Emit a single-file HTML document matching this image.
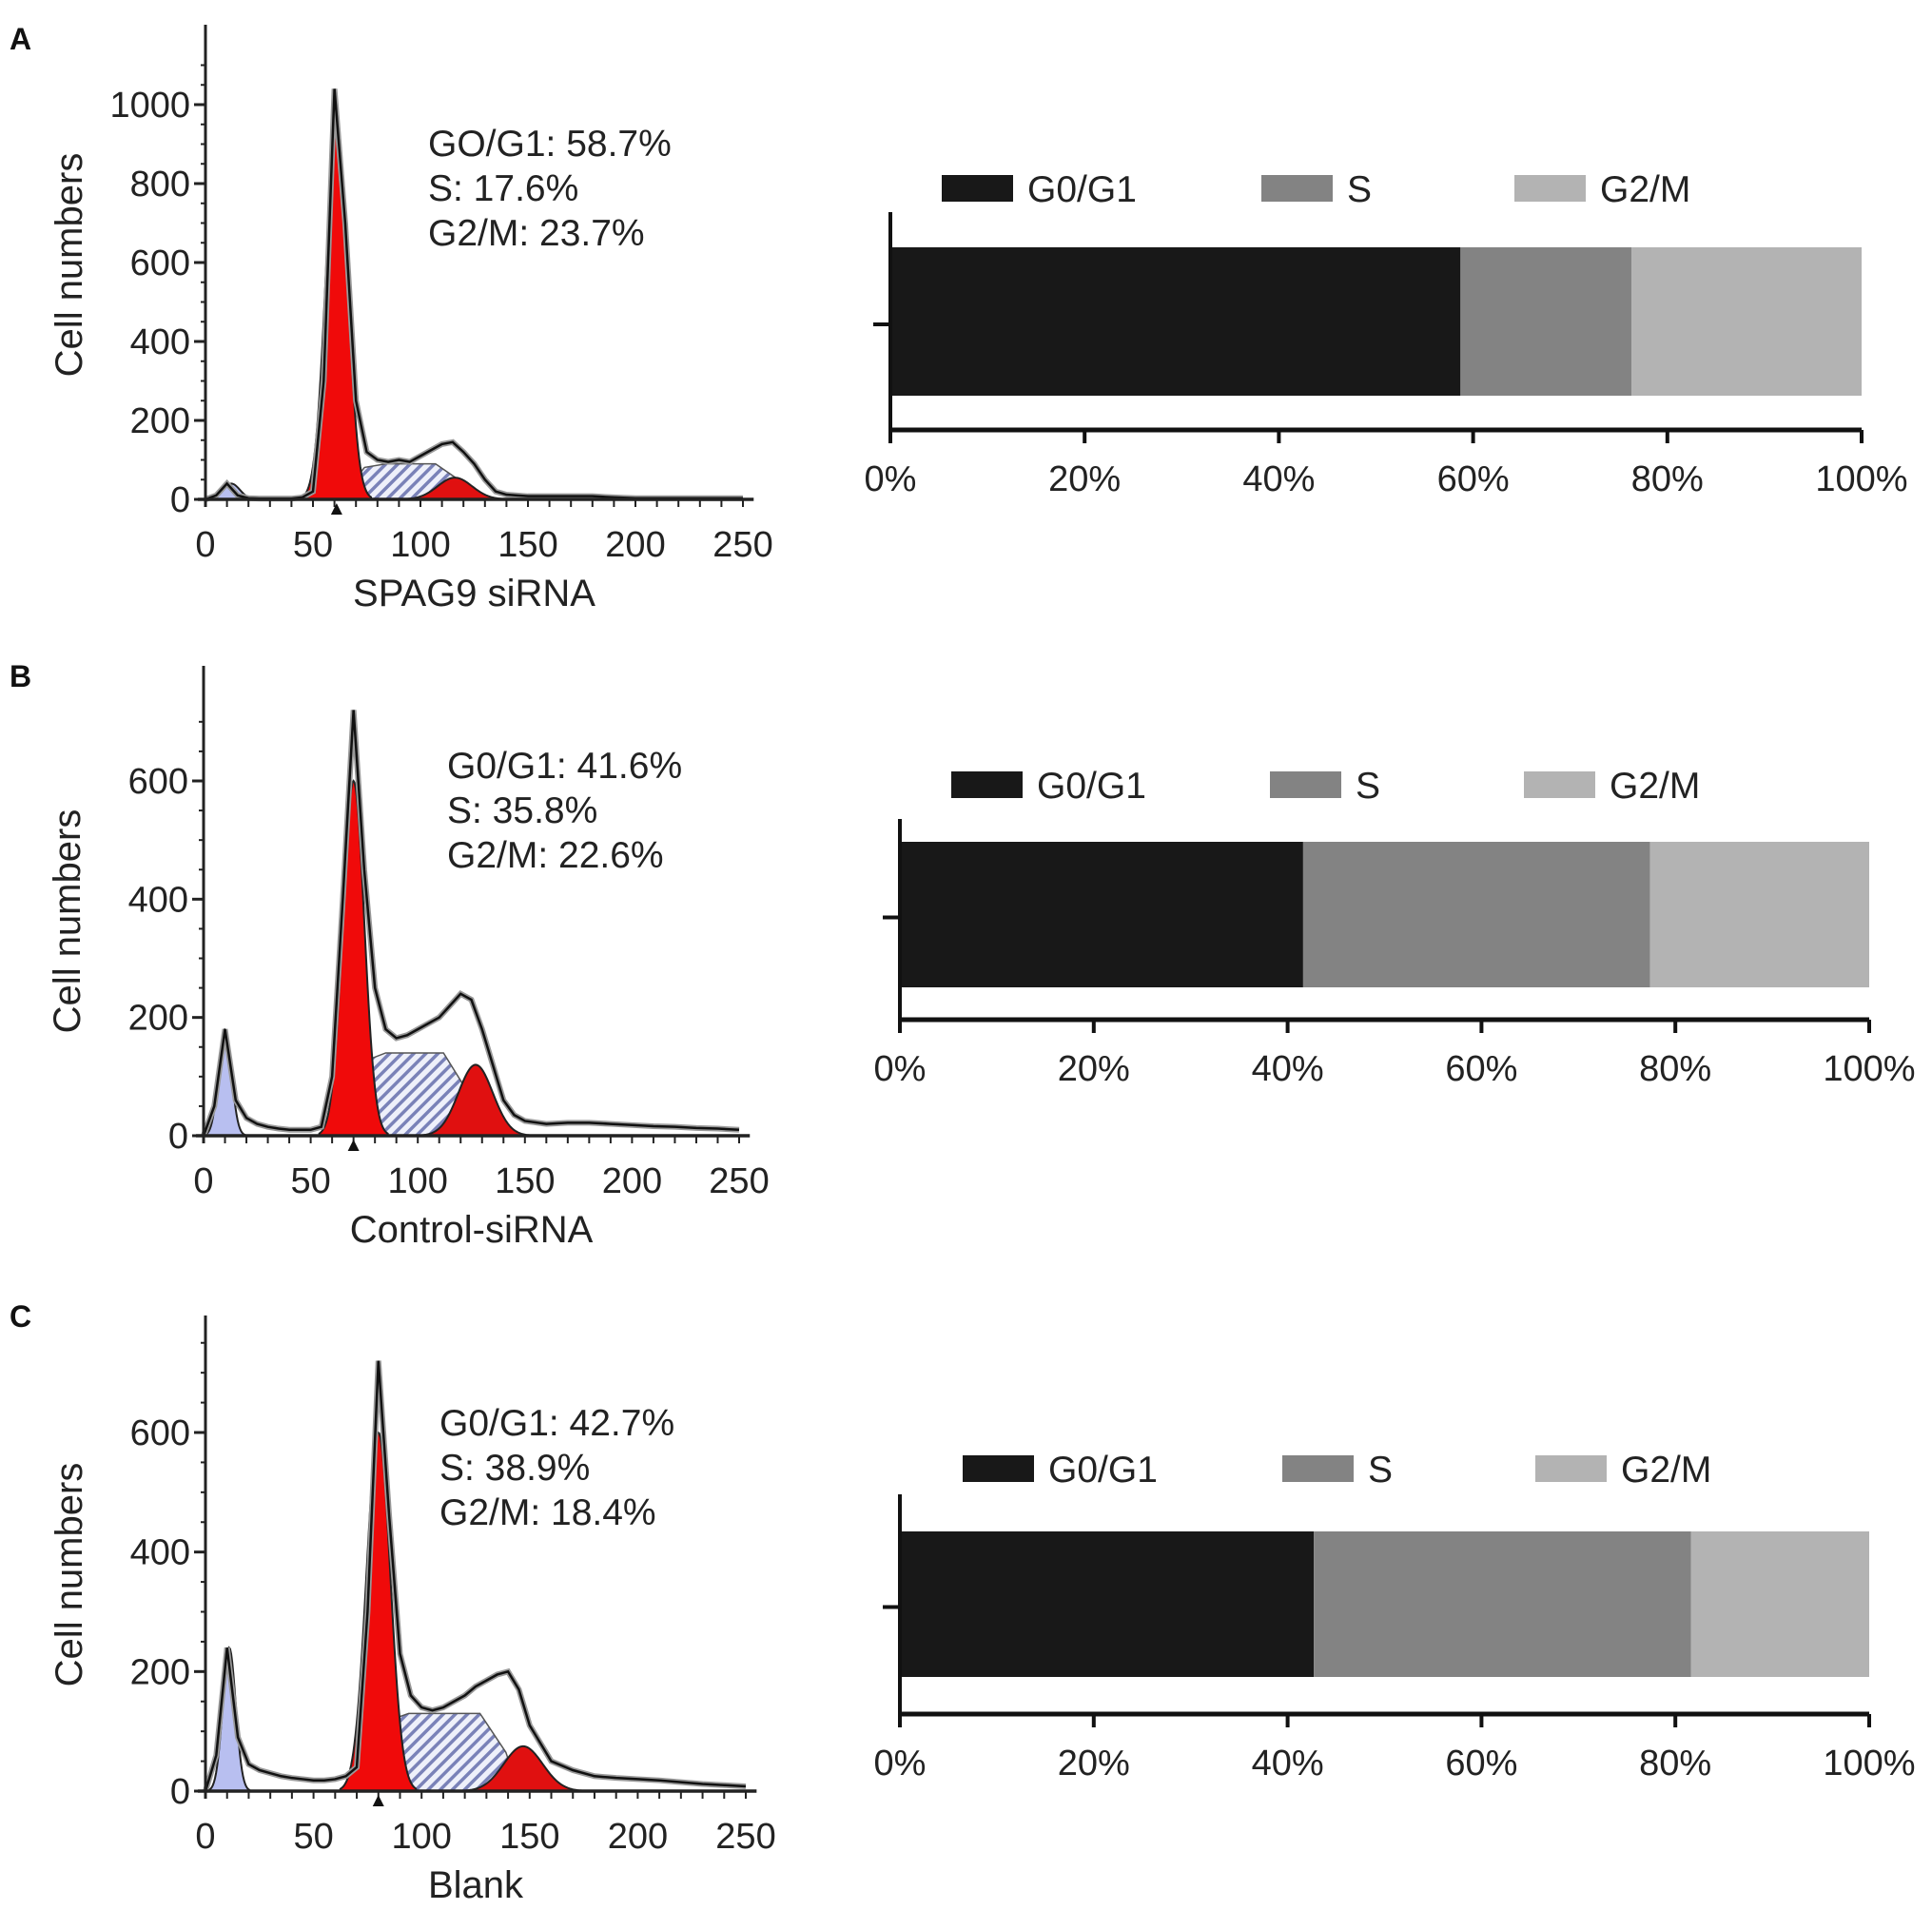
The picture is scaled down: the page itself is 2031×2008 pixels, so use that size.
<!DOCTYPE html>
<html><head><meta charset="utf-8"><style>
html,body{margin:0;padding:0;background:#fff;}
svg{display:block;font-family:"Liberation Sans",Arial,sans-serif;}
</style></head><body>
<svg id="fig" width="2031" height="2008" viewBox="0 0 2031 2008">
<defs>
<pattern id="hatch" patternUnits="userSpaceOnUse" width="9" height="9" patternTransform="rotate(45)">
<rect width="9" height="9" fill="#eef0fa"/><rect width="3.5" height="9" fill="#7a82b8"/></pattern>
</defs>
</svg>
<script>
// ---- data ----
const channels = [0,5,10,15,20,25,30,35,40,45,50,55,60,65,70,75,80,85,90,95,100,105,110,115,120,125,130,135,140,145,150,160,170,180,190,200,210,220,230,240,250];
const envA = [0,10,40,10,3,2,2,2,2,5,20,300,1040,700,250,120,100,95,100,95,110,125,140,145,120,90,50,20,12,10,8,8,8,8,5,3,3,3,3,3,3];
const envB = [0,50,180,60,30,20,15,12,10,10,10,15,100,400,720,450,250,180,165,170,180,190,200,220,240,230,180,120,60,35,25,20,22,22,20,18,16,15,13,12,10];
const envC = [0,60,240,90,45,35,30,25,22,20,18,18,20,25,40,300,720,460,230,160,140,135,140,150,160,175,185,195,200,170,110,50,35,25,22,20,18,15,12,10,8];
const debrisA = [12,40,4];   // mean, peak, sd
const debrisB = [10,180,3];
const debrisC = [11,240,3];
const g1A = [61,940,5], g1B = [70,600,5], g1C = [80,600,5.5];
const sA = [62,125,90], sB = [63,130,140], sC = [72,145,130];   // start, end, height
const g2A = [116,55,8], g2B = [127,120,8], g2C = [147,75,9];
const statsA = ["GO/G1: 58.7%","S: 17.6%","G2/M: 23.7%"];
const statsB = ["G0/G1: 41.6%","S: 35.8%","G2/M: 22.6%"];
const statsC = ["G0/G1: 42.7%","S: 38.9%","G2/M: 18.4%"];
const barA = [58.7,17.6,23.7], barB = [41.6,35.8,22.6], barC = [42.7,38.9,18.4];
const phaseNames = ["G0/G1","S","G2/M"];
const xTicks = [0,50,100,150,200,250];
const yTicksA = [0,200,400,600,800,1000], yTicksB = [0,200,400,600], yTicksC = [0,200,400,600];
const pctTicks = [0,20,40,60,80,100];

const NS="http://www.w3.org/2000/svg";
const svg=document.getElementById('fig');
function el(tag,attrs,parent){const e=document.createElementNS(NS,tag);for(const k in attrs)e.setAttribute(k,attrs[k]);(parent||svg).appendChild(e);return e;}
function txt(s,attrs,parent){const t=el('text',attrs,parent);t.textContent=s;return t;}

function hist(cfg){
  const g=el('g',{});
  
  
  const X=v=>cfg.x0+(cfg.x1-cfg.x0)*v/250;
  const Y=v=>cfg.y0-(cfg.y0-cfg.yRef)*v/cfg.yRefVal;
  const gauss=(p,c)=>p[1]*Math.exp(-0.5*Math.pow((c-p[0])/p[2],2));
  const gpoly=(p,fill,nm)=>{let pts=[];for(let c=p[0]-3.2*p[2];c<=p[0]+3.2*p[2];c+=0.5)pts.push(X(c)+','+Y(gauss(p,c)));
    pts.unshift(X(p[0]-3.2*p[2])+','+Y(0));pts.push(X(p[0]+3.2*p[2])+','+Y(0));
    const e=el('polygon',{points:pts.join(' '),fill:fill,stroke:'#222','stroke-width':2},g);
    };
  gpoly(cfg.debris,'#b8bff0','debris-peak');
  const s=cfg.s;const sp=[X(s[0])+','+Y(0),X(s[0]+12)+','+Y(s[2]*0.9),X(s[0]+22)+','+Y(s[2]),X(s[1]-18)+','+Y(s[2]),X(s[1]-6)+','+Y(s[2]*0.5),X(s[1])+','+Y(0)];
  const sPoly=el('polygon',{points:sp.join(' '),fill:'url(#hatch)',stroke:'#555','stroke-width':1.5},g);
  
  gpoly(cfg.g1,'#f00a0a','g1-peak');
  gpoly(cfg.g2,'#e01010','g2m-peak');
  const ep=channels.map((c,i)=>X(c)+','+Y(cfg.env[i])).join(' ');
  el('polyline',{points:ep,fill:'none',stroke:'#999','stroke-width':6},g);
  const env=el('polyline',{points:ep,fill:'none',stroke:'#111','stroke-width':2.5},g);
  
  const ya=el('line',{x1:cfg.x0,y1:cfg.yTop,x2:cfg.x0,y2:cfg.y0+8,stroke:'#222','stroke-width':3},g);
  
  const xa=el('line',{x1:cfg.x0-8,y1:cfg.y0,x2:X(255),y2:cfg.y0,stroke:'#222','stroke-width':3.5},g);
  
  for(let v=0;v<=cfg.yMax;v+=cfg.yMinor){el('line',{x1:cfg.x0-5,y1:Y(v),x2:cfg.x0+1,y2:Y(v),stroke:'#222','stroke-width':2},g);}
  for(let c=0;c<=250;c+=10){el('line',{x1:X(c),y1:cfg.y0,x2:X(c),y2:cfg.y0+8,stroke:'#222','stroke-width':2},g);}
  cfg.yTicks.forEach(v=>{el('line',{x1:cfg.x0-12,y1:Y(v),x2:cfg.x0,y2:Y(v),stroke:'#222','stroke-width':3},g);
    const t=txt(String(v),{x:cfg.x0-16,y:Y(v)+13,'text-anchor':'end','font-size':38,fill:'#222'},g);
    });
  xTicks.forEach(v=>{const t=txt(String(v),{x:X(v),y:cfg.y0+60,'text-anchor':'middle','font-size':38,fill:'#222'},g);
    });
  el('polygon',{points:`${X(cfg.g1[0])-6},${cfg.y0+16} ${X(cfg.g1[0])+6},${cfg.y0+16} ${X(cfg.g1[0])},${cfg.y0+4}`,fill:'#111'},g);
  const yt=txt('Cell numbers',{x:0,y:0,transform:`translate(${cfg.x0-130},${(cfg.y0+cfg.yRef)/2-39}) rotate(-90)`,'text-anchor':'middle','font-size':40,fill:'#222'},g);
  
  const xt=txt(cfg.xlabel,{x:X(125),y:cfg.y0+112,'text-anchor':'middle','font-size':40,fill:'#222'},g);
  
  cfg.stats.forEach((s,i)=>{const t=txt(s,{x:cfg.sx,y:cfg.sy+i*47,'font-size':39,fill:'#222'},g);
    });
  const pl=txt(cfg.letter,{x:10,y:cfg.ly,'font-size':32,'font-weight':'bold',fill:'#111'},g);
  
}

function bar(cfg){
  const g=el('g',{});
  
  
  const X=p=>cfg.x0+(cfg.x1-cfg.x0)*p/100;
  const fills=['#181818','#838383','#b3b3b3'];
  let acc=0;
  cfg.vals.forEach((v,i)=>{const r=el('rect',{x:X(acc),y:cfg.bt,width:X(acc+v)-X(acc),height:cfg.bb-cfg.bt,fill:fills[i]},g);
    acc+=v;});
  const va=el('line',{x1:cfg.x0,y1:cfg.vt,x2:cfg.x0,y2:cfg.ay+12,stroke:'#111','stroke-width':4},g);
  
  el('line',{x1:cfg.x0-18,y1:(cfg.bt+cfg.bb)/2+3,x2:cfg.x0,y2:(cfg.bt+cfg.bb)/2+3,stroke:'#111','stroke-width':4},g);
  const ha=el('line',{x1:cfg.x0,y1:cfg.ay,x2:cfg.x1,y2:cfg.ay,stroke:'#111','stroke-width':5},g);
  
  pctTicks.forEach(p=>{el('line',{x1:X(p),y1:cfg.ay,x2:X(p),y2:cfg.ay+14,stroke:'#111','stroke-width':4},g);
    const t=txt(p+'%',{x:X(p),y:cfg.ay+64,'text-anchor':'middle','font-size':38,fill:'#222'},g);
    });
  phaseNames.forEach((n,i)=>{const lg=el('g',{},g);
    
    el('rect',{x:cfg.lx[i],y:cfg.ly-14,width:75,height:28,fill:fills[i]},lg);
    txt(n,{x:cfg.lx[i]+90,y:cfg.ly+14,'font-size':39,fill:'#222'},lg);});
}

hist({name:'histogram-a',letter:'A',ly:52,x0:216,x1:781,y0:525,yRef:110,yRefVal:1000,yTop:26,yMax:1100,yMinor:50,yTicks:yTicksA,
  env:envA,debris:debrisA,g1:g1A,s:sA,g2:g2A,stats:statsA,sx:450,sy:164,xlabel:'SPAG9 siRNA'});
hist({name:'histogram-b',letter:'B',ly:722,x0:214,x1:777,y0:1194,yRef:821,yRefVal:600,yTop:700,yMax:700,yMinor:50,yTicks:yTicksB,
  env:envB,debris:debrisB,g1:g1B,s:sB,g2:g2B,stats:statsB,sx:470,sy:818,xlabel:'Control-siRNA'});
hist({name:'histogram-c',letter:'C',ly:1395,x0:216,x1:784,y0:1883,yRef:1506,yRefVal:600,yTop:1383,yMax:750,yMinor:50,yTicks:yTicksC,
  env:envC,debris:debrisC,g1:g1C,s:sC,g2:g2C,stats:statsC,sx:462,sy:1509,xlabel:'Blank'});

bar({name:'bar-chart-a',vals:barA,x0:936,x1:1957,bt:260,bb:416,ay:452,vt:223,lx:[990,1326,1592],ly:198});
bar({name:'bar-chart-b',vals:barB,x0:946,x1:1965,bt:885,bb:1038,ay:1072,vt:861,lx:[1000,1335,1602],ly:825});
bar({name:'bar-chart-c',vals:barC,x0:946,x1:1965,bt:1610,bb:1763,ay:1802,vt:1571,lx:[1012,1348,1614],ly:1544});
</script>
</body></html>
